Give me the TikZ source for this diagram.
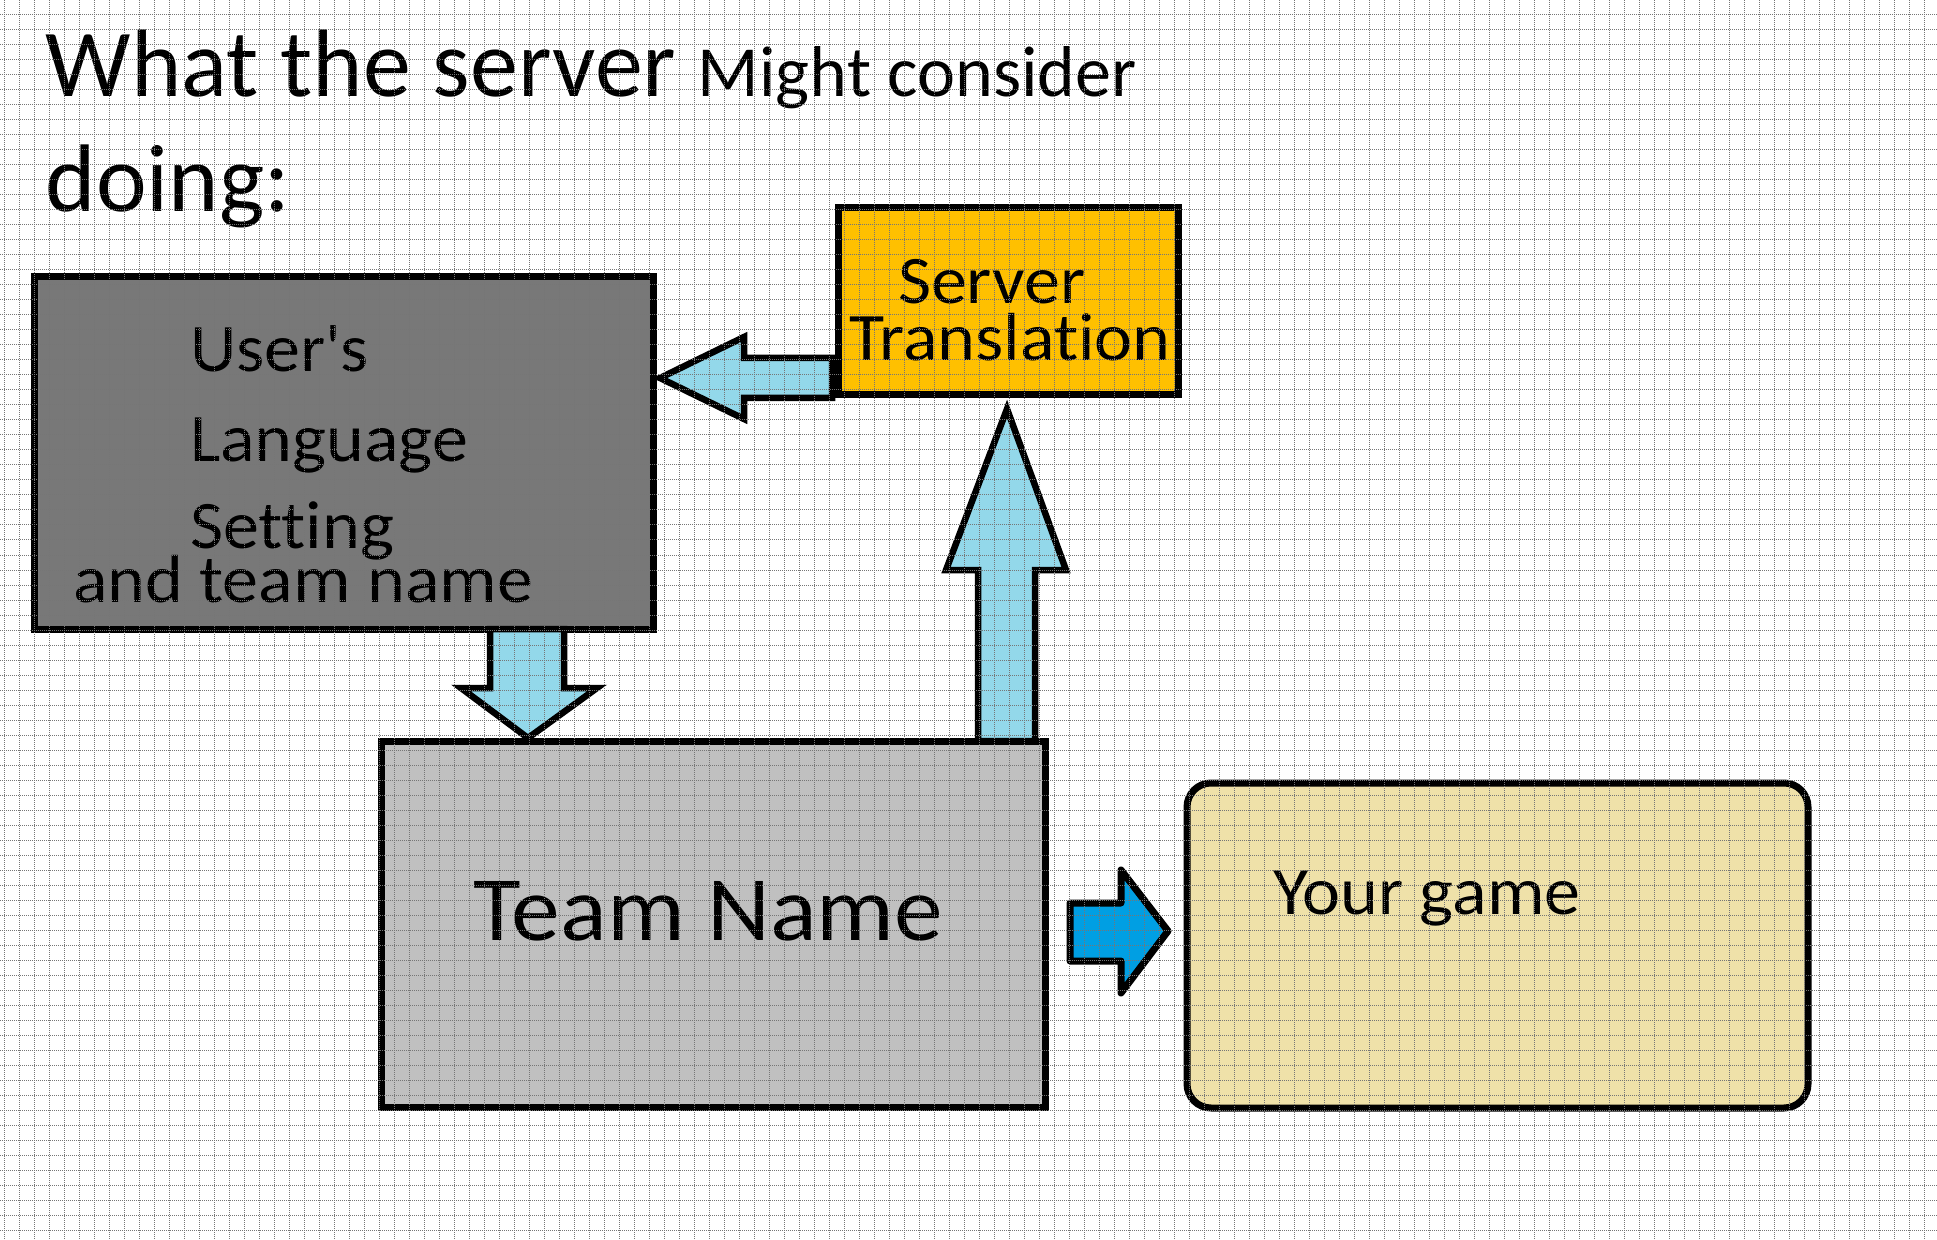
\documentclass[tikz,border=0pt]{standalone}
\usepackage{fontspec}
\setmainfont{Carlito}[Ligatures=NoCommon]
\newfontfamily\bodyfont{Carlito}[Ligatures=NoCommon, FakeStretch=1.06]
\usetikzlibrary{calc}
\definecolor{userfill}{HTML}{787878}
\definecolor{srvfill}{HTML}{FFC000}
\definecolor{teamfill}{HTML}{C0C0C0}
\definecolor{gamefill}{HTML}{EFE1A9}
\definecolor{lblue}{HTML}{93D8EA}
\definecolor{dblue}{HTML}{009FE3}
\definecolor{gridc}{HTML}{767676}
\begin{document}
\begin{tikzpicture}[x=0.5pt,y=-0.5pt,
  box/.style={draw=black, line width=3.5pt, rectangle, inner sep=0pt, outer sep=0pt},
  txt/.style={inner sep=0pt, outer sep=0pt, anchor=base west, text=black},
  barrow/.style={draw=black, line width=3.25pt, fill=lblue, line join=miter},
  rarrow/.style={draw=black, line width=3.5pt, fill=dblue, line join=round},
  gridline/.style={draw=gridc, line width=0.5pt, dash pattern=on 0.5pt off 0.5pt}]
\useasboundingbox (0,0) rectangle (1937,1240);
\fill[white] (0,0) rectangle (1937,1240);

% boxes
\node[box, fill=userfill, minimum width=309.5pt, minimum height=176pt] (user) at (343.5,453) {};
\node[box, fill=srvfill, minimum width=170pt, minimum height=93.5pt] (srv) at (1008,301.5) {};
\node[box, fill=teamfill, minimum width=332pt, minimum height=183pt] (team) at (713,924) {};
\node[box, fill=gamefill, rounded corners=12pt, minimum width=310.5pt, minimum height=162.5pt] (game) at (1497.5,945.5) {};

% texts
\node[txt, font=\fontsize{48}{58}\selectfont] (title1) at (46,97) {What the server {\fontsize{36}{42}\selectfont Might consider}};
\node[txt, font=\fontsize{48}{58}\selectfont] (title2) at (46,212) {doing:};
\node[txt, font=\bodyfont\fontsize{34}{40}\selectfont] (u1) at (190,372) {User\textquotesingle s};
\node[txt, font=\bodyfont\fontsize{34}{40}\selectfont] (u2) at (190,462) {Language};
\node[txt, font=\bodyfont\fontsize{34}{40}\selectfont] (u3) at (190,548) {Setting};
\node[txt, font=\bodyfont\fontsize{34}{40}\selectfont] (u4) at (73,602) {and team name};
\node[txt, font=\bodyfont\fontsize{34}{40}\selectfont] (s1) at (898,304) {Server};
\node[txt, font=\bodyfont\fontsize{34}{40}\selectfont] (s2) at (849,361) {Translation};
\node[txt, font=\bodyfont\fontsize{46}{55}\selectfont] (t1) at (473,940) {Team Name};
\node[txt, font=\bodyfont\fontsize{34}{40}\selectfont] (g1) at (1273,914) {Your game};

% helper levels
\coordinate (yl) at (0,378);
\coordinate (xd) at (528,0);
\coordinate (xdl) at (490,0);
\coordinate (xu) at (1007,0);
\coordinate (xul) at (978,0);
\coordinate (xur) at (1035,0);

% left arrow: Server Translation -> User's settings
\draw[barrow] ($(user.east |- yl)+(7,0)$) -- (744,337) -- (744,358) -- ($(srv.west |- yl)+(-6,-20)$)
  -- ($(srv.west |- yl)+(-6,20)$) -- (744,398) -- (744,419) -- cycle;

% down arrow: User's settings -> Team Name
\draw[barrow] (user.south -| xdl) -- (564,629) -- (564,688) -- (597,688)
  -- ($(team.north -| xd)+(0,-3)$) -- (461,688) -- (490,688) -- cycle;

% up arrow: Team Name -> Server Translation
\draw[barrow] (team.north -| xul) -- (978,570) -- (946,570) -- ($(srv.south -| xu)+(0,14)$)
  -- (1066,570) -- (1035,570) -- (team.north -| xur) -- cycle;

% right arrow: Team Name -> Your game
\draw[rarrow] (1070,903) -- (1121,903) -- (1121,870) -- (1168,931) -- (1121,993) -- (1121,961) -- (1070,961) -- cycle;

% grid overlay
\foreach \x in {4,19,...,1937} \draw[gridline] (\x,0) -- (\x,1240);
\foreach \y in {0,15,...,1240} \draw[gridline] (0,\y) -- (1937,\y);
\end{tikzpicture}
\end{document}
